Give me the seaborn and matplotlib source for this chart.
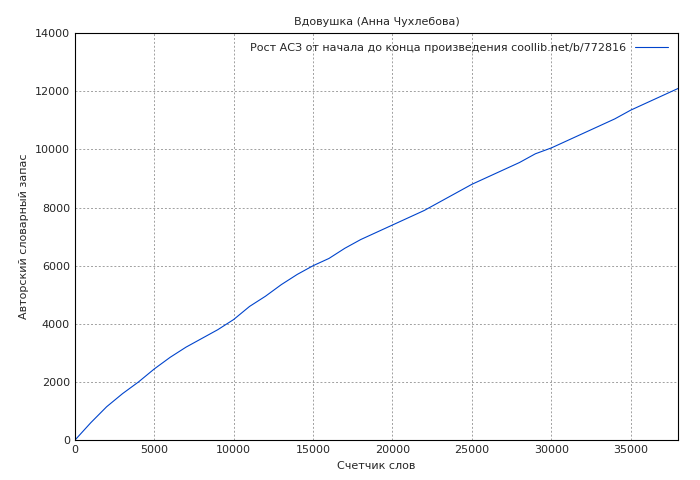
import matplotlib
matplotlib.use("Agg")
import matplotlib.pyplot as plt
import seaborn as sns
import pandas as pd

words = [0, 1000, 2000, 3000, 4000, 5000, 6000, 7000, 8000, 9000, 10000,
         11000, 12000, 13000, 14000, 15000, 16000, 17000, 18000, 19000, 20000,
         21000, 22000, 23000, 24000, 25000, 26000, 27000, 28000, 29000, 30000,
         31000, 32000, 33000, 34000, 35000, 36000, 37000, 38000]
vocab = [0, 600, 1150, 1600, 2000, 2450, 2850, 3200, 3500, 3800, 4150,
         4600, 4950, 5350, 5700, 6000, 6250, 6600, 6900, 7150, 7400,
         7650, 7900, 8200, 8500, 8800, 9050, 9300, 9550, 9850, 10050,
         10300, 10550, 10800, 11050, 11350, 11600, 11850, 12100]

df = pd.DataFrame({"words": words, "vocab": vocab})

sns.set_style("white")
plt.rcParams["font.family"] = ["DejaVu Sans"]
plt.rcParams["font.size"] = 8

fig, ax = plt.subplots(figsize=(7, 4.8), dpi=100)
fig.subplots_adjust(left=0.107, right=0.969, top=0.931, bottom=0.083)
sns.lineplot(data=df, x="words", y="vocab", ax=ax, color="#0044cc", linewidth=0.8,
             label="Рост АСЗ от начала до конца произведения coollib.net/b/772816")
ax.set_xlim(0, 38000)
ax.set_ylim(0, 14000)
ax.set_xticks(range(0, 38000, 5000))
ax.set_yticks(range(0, 14001, 2000))
ax.grid(True, color="#a0a0a0", linestyle=(0, (2, 2)), linewidth=0.7)
for s in ax.spines.values():
    s.set_color("black")
    s.set_linewidth(0.8)
ax.tick_params(direction="in", length=4, labelsize=8)
ax.set_xlabel("Счетчик слов", fontsize=8)
ax.set_ylabel("Авторский словарный запас", fontsize=8)
ax.set_title("Вдовушка (Анна Чухлебова)", fontsize=8)
ax.legend(loc="upper right", frameon=False, markerfirst=False, fontsize=8,
          handlelength=3)
fig.savefig("out.png", dpi=100)
